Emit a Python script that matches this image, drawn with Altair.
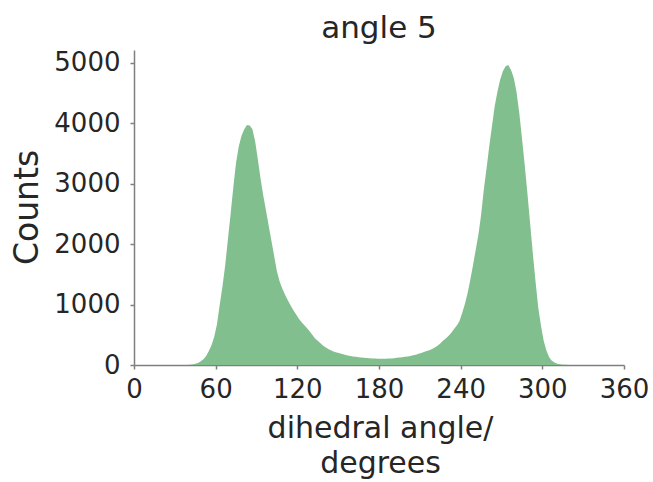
import altair as alt
import pandas as pd

# Histogram of dihedral angle (2-degree bins, value at bin centre), counts
bin_centre = list(range(1, 360, 2))
counts = (
    [0] * 20
    + [5, 10, 20, 35, 60, 95, 150, 230, 330, 470]
    + [680, 1000, 1300, 1650, 2080, 2500, 2950, 3350, 3620, 3790]
    + [3900, 3970, 3960, 3900, 3700, 3400, 3080, 2800, 2550, 2300]
    + [2050, 1800, 1550, 1380, 1260, 1160, 1070, 990, 910, 840]
    + [770, 710, 660, 610, 560, 500, 440, 400, 360, 320]
    + [290, 260, 240, 220, 205, 195, 180, 170, 158, 150]
    + [142, 136, 130, 125, 120, 115, 112, 108, 106, 105]
    + [104, 102, 104, 106, 108, 112, 118, 124, 130, 136]
    + [142, 150, 160, 170, 185, 200, 215, 230, 245, 265]
    + [290, 320, 355, 400, 440, 480, 530, 590, 650, 720]
    + [850, 1000, 1180, 1400, 1640, 1900, 2150, 2480, 2900, 3250]
    + [3620, 3950, 4280, 4520, 4720, 4860, 4940, 4960, 4880, 4750]
    + [4520, 4180, 3760, 3320, 2850, 2350, 1850, 1380, 950, 650]
    + [400, 240, 130, 70, 40, 22, 12, 6, 3, 1]
    + [0] * 20
)
x_ticks = [0, 60, 120, 180, 240, 300, 360]
y_ticks = [0, 1000, 2000, 3000, 4000, 5000]

df = pd.DataFrame({"angle": bin_centre, "count": counts})

FONT = "DejaVu Sans"
TXT = "#262626"
AX = "#7f7f7f"

chart = (
    alt.Chart(df)
    .mark_area(interpolate="linear", color="#82bf8e", opacity=1)
    .encode(
        x=alt.X(
            "angle:Q",
            scale=alt.Scale(domain=[0, 360], nice=False, zero=False),
            axis=alt.Axis(
                values=x_ticks,
                title=["dihedral angle/", "degrees"],
                titleFontSize=30,
                titleFont=FONT,
                titleFontWeight="normal",
                titleColor=TXT,
                titleX=246,
                titleY=72,
                titleBaseline="alphabetic",
                titleAlign="center",
                titleLineHeight=35,
                labelFontSize=26,
                labelFont=FONT,
                labelColor=TXT,
                labelPadding=7,
                labelFlush=False,
                labelOverlap=False,
                tickSize=4,
                tickWidth=1.5,
                tickColor=AX,
                domainColor=AX,
                domainWidth=1.5,
                grid=False,
            ),
        ),
        y=alt.Y(
            "count:Q",
            scale=alt.Scale(domain=[0, 5210], nice=False),
            axis=alt.Axis(
                values=y_ticks,
                format="d",
                title="Counts",
                titleFontSize=33,
                titleFont=FONT,
                titleFontWeight="normal",
                titleColor=TXT,
                titleX=-107,
                titleY=157,
                titleAngle=270,
                titleBaseline="middle",
                titleAlign="center",
                labelFontSize=26,
                labelFont=FONT,
                labelColor=TXT,
                labelPadding=10,
                labelFlush=False,
                labelOverlap=False,
                tickSize=4,
                tickWidth=1.5,
                tickColor=AX,
                domainColor=AX,
                domainWidth=1.5,
                grid=False,
            ),
        ),
    )
    .properties(
        width=490,
        height=315,
        title=alt.TitleParams(
            "angle 5",
            fontSize=31,
            font=FONT,
            fontWeight="normal",
            color=TXT,
            anchor="middle",
            offset=5,
        ),
        autosize=alt.AutoSizeParams(type="none"),
        padding={"left": 134, "top": 50, "right": 29, "bottom": 117},
    )
    .configure_view(stroke=None)
)

chart.save("out.html", embed_options={"renderer": "svg", "actions": False})
